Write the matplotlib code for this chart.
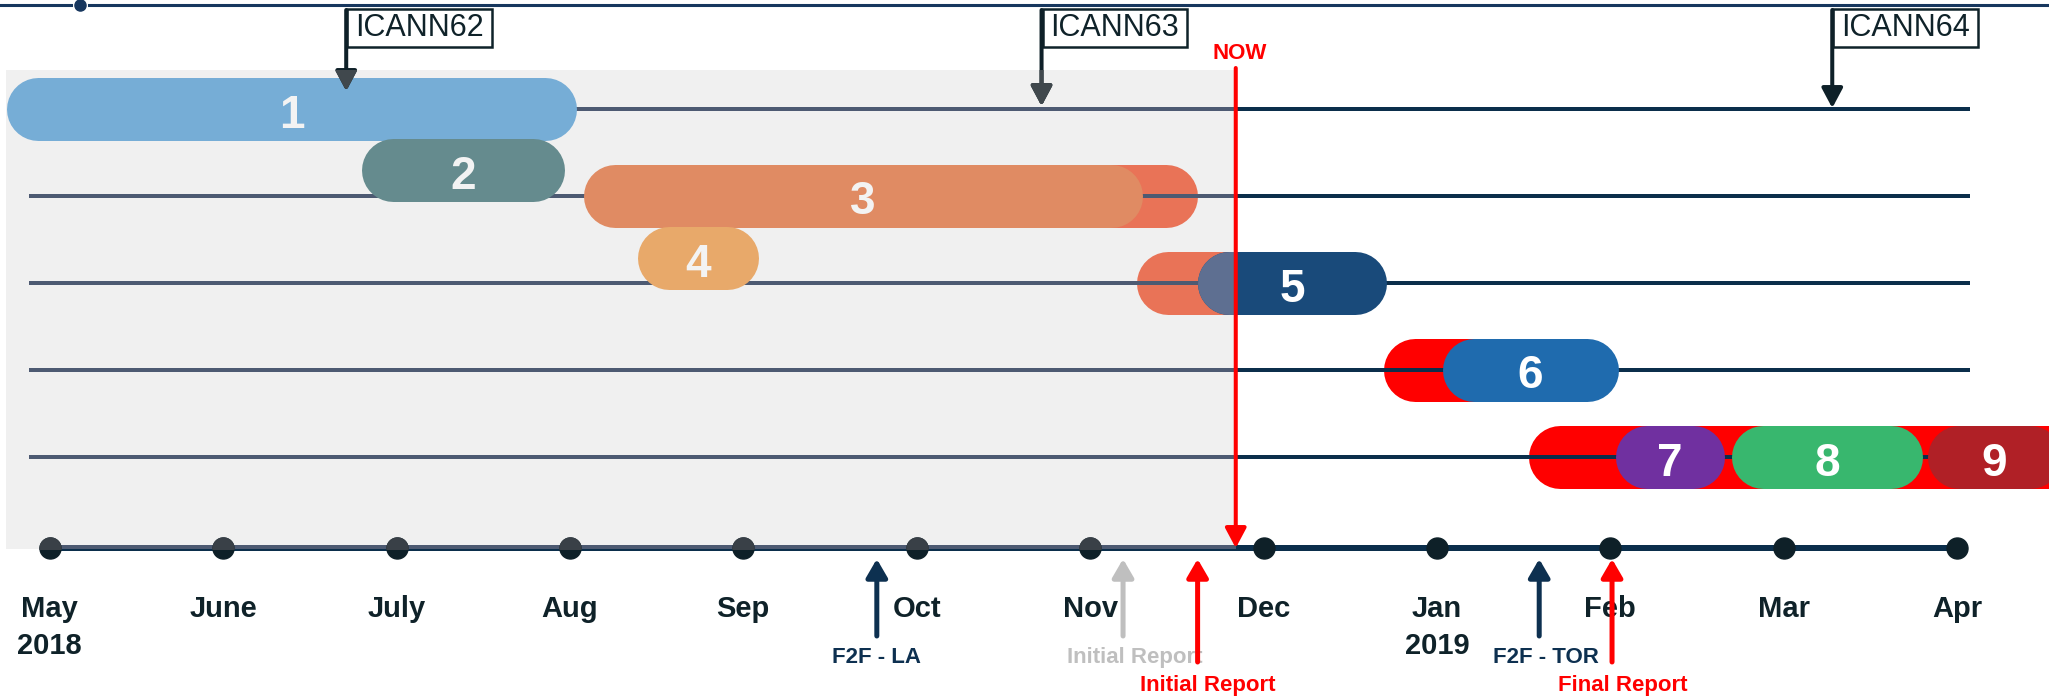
import matplotlib
matplotlib.use("Agg")
import matplotlib.pyplot as plt
from matplotlib.patches import Rectangle, FancyArrowPatch

plt.rcParams['font.family'] = ['Liberation Sans', 'DejaVu Sans']

# ---------------- data ----------------
month_labels = ["May\n2018", "June", "July", "Aug", "Sep", "Oct", "Nov", "Dec",
                "Jan\n2019", "Feb", "Mar", "Apr"]
month_pos = list(range(12))            # months since May 2018

bar_labels = ["1", "2", "3", "4", "5", "6", "7", "8", "9"]
bar_start = [-0.25, 1.80, 3.08, 3.39, 6.62, 8.03, 9.03, 9.70, 10.83]
bar_end = [3.04, 2.97, 6.30, 4.09, 7.71, 9.05, 9.66, 10.80, 11.60]
bar_lane = [0, 0.71, 1, 1.72, 2, 3, 4, 4, 4]
bar_colors = ["#76ADD6", "#658B8E", "#E08B63", "#E8A96A", "#194A7A",
              "#1F6BAE", "#7030A0", "#38B76E", "#B02026"]

delay_start = [4.00, 6.27, 7.69, 8.53]
delay_end = [6.62, 7.56, 8.88, 11.80]
delay_lane = [1, 2, 3, 4]
delay_colors = ["#E97357", "#E97357", "#FF0000", "#FF0000"]

lanes = [0, 1, 2, 3, 4]
lane_line_start = -0.12
lane_line_end = 11.075

now_month = 6.84
now_label = "NOW"

icann_labels = ["ICANN62", "ICANN63", "ICANN64"]
icann_month = [1.71, 5.72, 10.28]

event_labels = ["F2F - LA", "Initial Report", "Initial Report", "F2F - TOR", "Final Report"]
event_month = [4.77, 6.19, 6.62, 8.59, 9.01]
event_colors = ["#0D3050", "#BFBFBF", "#FF0000", "#0D3050", "#FF0000"]
event_level = [0, 0, 1, 0, 1]

# ---------------- layout ----------------
W, H, DPI = 2049, 699, 100
X0_PX, PX_PER_MONTH = 49.7, 173.4
LANE0_PX, LANE_GAP = 108.5, 87.0
AXIS_Y = 548
SHADE_TOP, SHADE_BOTTOM = 70, 549
PILL_H_PX = 63
PILL_LW = PILL_H_PX * 72 / DPI
R_M = (PILL_H_PX / 2) / PX_PER_MONTH
ROW_LW = 4 * 72 / DPI
AXIS_LW = 6 * 72 / DPI
DOT_MS = 21 * 72 / DPI
DARK_LINE = "#0B2E4B"
LIGHT_LINE = "#4D5A72"
DARK_DOT = "#0E2028"
LIGHT_DOT = "#394047"
TEXT_DARK = "#0F2229"
SHADED_VARIANT = {"#194A7A": "#5E6F91"}

ICANN_BOX_TOP = 10
ICANN_BOX_CY = 28
ICANN_TIP = [91, 106, 108]
NOW_TOP = 68
EVENT_TIP = 559
EVENT_TAIL = [636, 662]
EVENT_BASE = [663, 691]
EVENT_LABEL_DX_PX = [0, 11.5, 10.5, 6.5, 11]
MONTH_BASE = 617
MONTH_LINE_GAP = 37


def m_from_px(p):
    return (p - X0_PX) / PX_PER_MONTH


def lane_y(l):
    return LANE0_PX + LANE_GAP * l


fig = plt.figure(figsize=(W / DPI, H / DPI), dpi=DPI)
ax = fig.add_axes([0, 0, 1, 1])
ax.set_xlim(m_from_px(0), m_from_px(W))
ax.set_ylim(H, 0)
ax.axis('off')

# shaded "past" region
shade = Rectangle((bar_start[0], SHADE_TOP), now_month - bar_start[0],
                  SHADE_BOTTOM - SHADE_TOP, fc="#F0F0F0", ec="none", zorder=0)
ax.add_patch(shade)


def pill(s, e, y, color, z, clip=None):
    ln, = ax.plot([s + R_M, e - R_M], [y, y], color=color, lw=PILL_LW,
                  solid_capstyle='round', zorder=z)
    if clip is not None:
        ln.set_clip_path(clip)
    return ln


# delay pills (behind lane lines)
for s, e, l, c in zip(delay_start, delay_end, delay_lane, delay_colors):
    pill(s, e, lane_y(l), c, 1)

# lane lines
for l in lanes:
    ax.plot([lane_line_start, lane_line_end], [lane_y(l)] * 2, color=DARK_LINE,
            lw=ROW_LW, solid_capstyle='butt', zorder=2)
    ln, = ax.plot([lane_line_start, lane_line_end], [lane_y(l)] * 2, color=LIGHT_LINE,
                  lw=ROW_LW, solid_capstyle='butt', zorder=2.1)
    ln.set_clip_path(shade)

# main pills
for lbl, s, e, l, c in zip(bar_labels, bar_start, bar_end, bar_lane, bar_colors):
    pill(s, e, lane_y(l), c, 3)
    if s < now_month < e and c in SHADED_VARIANT:
        pill(s, e, lane_y(l), SHADED_VARIANT[c], 3.1, clip=shade)
    tc = "#F3F3F3" if (s + e) / 2 < now_month else "white"
    ax.text((s + e) / 2, lane_y(l) + 2, lbl, ha='center', va='center_baseline',
            fontsize=33, fontweight='bold', color=tc, zorder=4)

# timeline axis with month dots
ax.plot(month_pos, [AXIS_Y] * len(month_pos), color=DARK_LINE, lw=AXIS_LW,
        solid_capstyle='butt', zorder=5)
ax.plot(month_pos, [AXIS_Y] * len(month_pos), 'o', color=DARK_DOT, ms=DOT_MS, zorder=5.2)
ln, = ax.plot(month_pos, [AXIS_Y] * len(month_pos), color=LIGHT_LINE, lw=AXIS_LW,
              solid_capstyle='butt', zorder=5.1)
ln.set_clip_path(shade)
ln, = ax.plot(month_pos, [AXIS_Y] * len(month_pos), 'o', color=LIGHT_DOT, ms=DOT_MS, zorder=5.3)
ln.set_clip_path(shade)

for i, lbl in enumerate(month_labels):
    for j, part in enumerate(lbl.split("\n")):
        ax.text(month_pos[i], MONTH_BASE + j * MONTH_LINE_GAP, part, ha='center',
                va='baseline', fontsize=21, fontweight='bold', color=TEXT_DARK, zorder=8)

# ICANN meeting flags
ARROW_STYLE = "-|>,head_length=0.6,head_width=0.32"
for lbl, m, tip in zip(icann_labels, icann_month, ICANN_TIP):
    ax.annotate(lbl, xy=(m, ICANN_BOX_CY), xytext=(6.5, 0), textcoords='offset points',
                ha='left', va='center', fontsize=22, color=TEXT_DARK, zorder=6,
                bbox=dict(boxstyle='square,pad=0.26', mutation_aspect=0.5,
                          fc='white', ec=TEXT_DARK, lw=1.8))
    for col, clip in ((DARK_DOT, None), ("#40484D", shade)):
        arr = FancyArrowPatch((m, ICANN_BOX_TOP), (m, tip), arrowstyle=ARROW_STYLE,
                              mutation_scale=20, lw=2.9, color=col,
                              shrinkA=0, shrinkB=0, zorder=6.5 if clip is None else 6.6)
        ax.add_patch(arr)
        if clip is not None:
            arr.set_clip_path(clip)

# NOW marker
ax.add_patch(FancyArrowPatch((now_month, NOW_TOP), (now_month, AXIS_Y), arrowstyle=ARROW_STYLE,
                             mutation_scale=20, lw=2.9, color="#FF0000",
                             shrinkA=0, shrinkB=0, zorder=7))
ax.text(now_month + 0.02, 59, now_label, ha='center', va='baseline', fontsize=16,
        fontweight='bold', color="#FF0000", zorder=7)

# bottom events
EV_STYLE = "-|>,head_length=0.55,head_width=0.32"
for lbl, m, c, lev, dx in zip(event_labels, event_month, event_colors, event_level,
                              EVENT_LABEL_DX_PX):
    ax.add_patch(FancyArrowPatch((m, EVENT_TAIL[lev]), (m, EVENT_TIP), arrowstyle=EV_STYLE,
                                 mutation_scale=20, lw=3.6, color=c,
                                 shrinkA=0, shrinkB=0, zorder=8.5))
    ax.text(m + dx / PX_PER_MONTH, EVENT_BASE[lev], lbl, ha='center', va='baseline',
            fontsize=16, fontweight='bold', color=c, zorder=8)

# top decorative rule
DECO = "#17375E"
ax.plot([m_from_px(0), m_from_px(71)], [4.5, 4.5], color=DECO, lw=2.2, zorder=9)
ax.plot([m_from_px(89), m_from_px(W)], [4.5, 4.5], color=DECO, lw=2.2, zorder=9)
ax.plot([m_from_px(80)], [4.5], 'o', color=DECO, ms=8, zorder=9)

fig.savefig("out.png", dpi=DPI)
